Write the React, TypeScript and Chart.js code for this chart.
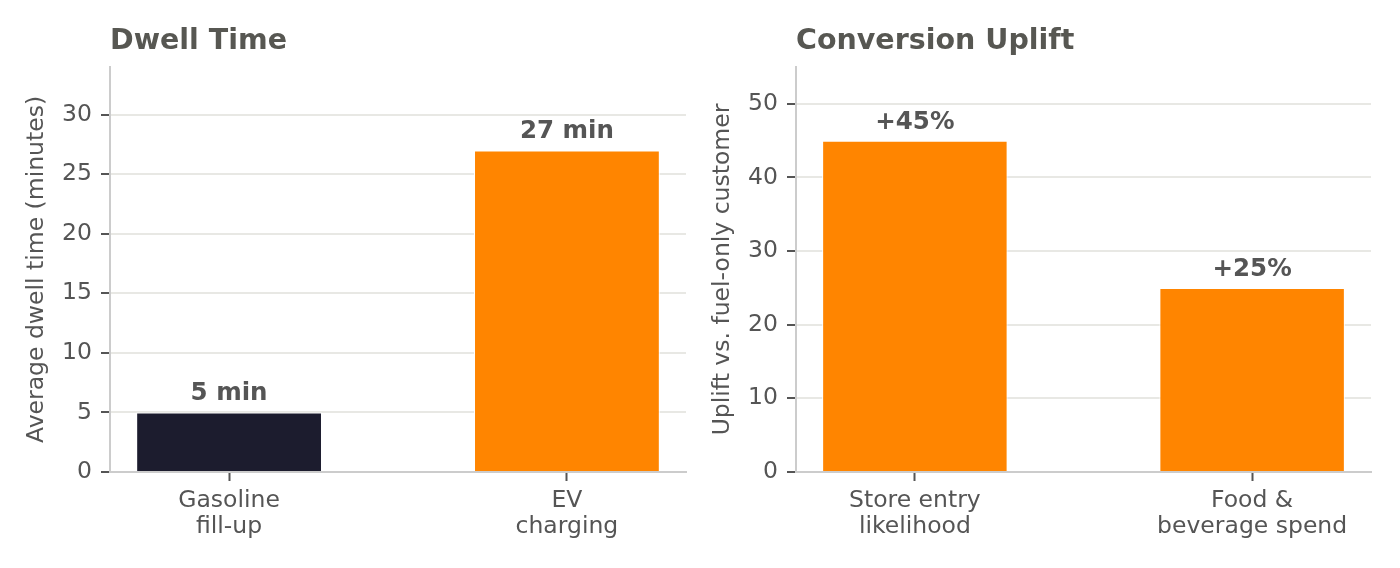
import React, { useEffect, useRef } from "react";
import { Chart, registerables } from "chart.js";

Chart.register(...registerables);

// ---- Data ----
const dwellTitle = "Dwell Time";
const dwellAxisTitle = "Average dwell time (minutes)";
const dwellCategories = [["Gasoline", "fill-up"], ["EV", "charging"]];
const dwellValues = [5, 27];
const dwellColors = ["#1c1c2e", "#ff8500"];
const dwellValueLabels = ["5 min", "27 min"];
const dwellYMax = 34;
const dwellYStep = 5;

const upliftTitle = "Conversion Uplift";
const upliftAxisTitle = "Uplift vs. fuel-only customer";
const upliftCategories = [["Store entry", "likelihood"], ["Food &", "beverage spend"]];
const upliftValues = [45, 25];
const upliftColors = ["#ff8500", "#ff8500"];
const upliftValueLabels = ["+45%", "+25%"];
const upliftYMax = 55;
const upliftYStep = 10;

const FONT = "'DejaVu Sans', 'Noto Sans', sans-serif";
const TEXT = "#555555";
const TITLE = "#575752";

type PanelProps = {
  title: string;
  axisTitle: string;
  categories: string[][];
  values: number[];
  colors: string[];
  valueLabels: string[];
  yMax: number;
  yStep: number;
  yAxisWidth: number;
  rightPad: number;
  yTitlePad: number;
};

function Panel(p: PanelProps) {
  const ref = useRef<HTMLCanvasElement | null>(null);
  useEffect(() => {
    if (!ref.current) return;
    const labelPlugin = {
      id: "valueLabels",
      afterDatasetsDraw(chart: any) {
        const ctx = chart.ctx;
        const meta = chart.getDatasetMeta(0);
        ctx.save();
        ctx.font = `bold 24.5px ${FONT}`;
        ctx.fillStyle = TEXT;
        ctx.textAlign = "center";
        ctx.textBaseline = "alphabetic";
        meta.data.forEach((el: any, i: number) => {
          ctx.fillText(p.valueLabels[i], el.x, el.y - 12);
        });
        ctx.restore();
      },
    };
    const chart = new Chart(ref.current, {
      type: "bar",
      data: {
        datasets: [
          {
            data: p.values.map((v, i) => ({ x: i, y: v })),
            backgroundColor: p.colors,
            borderColor: "#ffffff",
            borderWidth: 1,
            barPercentage: 0.55,
            categoryPercentage: 1,
          },
        ],
      },
      options: {
        responsive: false,
        animation: false,
        devicePixelRatio: 1,
        layout: { padding: { left: 0, right: p.rightPad, top: 0, bottom: 0 } },
        plugins: {
          legend: { display: false },
          tooltip: { enabled: false },
          title: {
            display: true,
            text: p.title,
            align: "start",
            fullSize: false,
            color: TITLE,
            font: { family: FONT, size: 28.5, weight: "bold", lineHeight: 1.2 },
            padding: { top: 24, bottom: 8.8 },
          },
        },
        scales: {
          x: {
            type: "linear",
            min: -0.3525,
            max: 1.3525,
            offset: false,
            afterFit: (s: any) => {
              s.height = 96;
            },
            ticks: {
              stepSize: 1,
              includeBounds: false,
              autoSkip: false,
              maxRotation: 0,
              color: TEXT,
              padding: 6,
              font: { family: FONT, size: 23.5, lineHeight: 1.14 },
              callback: (v: any) => p.categories[v] ?? "",
            },
            grid: {
              offset: false,
              drawOnChartArea: false,
              drawTicks: true,
              tickLength: 9,
              tickColor: TEXT,
              tickWidth: 2,
            },
            border: { color: "#cccccc", width: 2 },
          },
          y: {
            min: 0,
            max: p.yMax,
            afterFit: (s: any) => {
              s.width = p.yAxisWidth;
            },
            ticks: {
              stepSize: p.yStep,
              includeBounds: false,
              color: TEXT,
              padding: 9,
              font: { family: FONT, size: 23.5 },
            },
            grid: {
              color: "#e8e8e4",
              lineWidth: 2,
              tickLength: 9,
              tickColor: TEXT,
              tickWidth: 2,
            },
            border: { color: "#cccccc", width: 2 },
            title: {
              display: true,
              text: p.axisTitle,
              color: TEXT,
              font: { family: FONT, size: 23.5, lineHeight: 1.2 },
              padding: { top: p.yTitlePad, bottom: 0 },
            },
          },
        },
      } as any,
      plugins: [labelPlugin],
    });
    return () => chart.destroy();
  }, []);
  return <canvas ref={ref} width={700} height={568} style={{ display: "block", width: 700, height: 568 }} />;
}

export default function App() {
  return (
    <div style={{ position: "fixed", left: 0, top: 0, width: 1400, height: 568, background: "#ffffff", display: "flex" }}>
      <Panel
        title={dwellTitle}
        axisTitle={dwellAxisTitle}
        categories={dwellCategories}
        values={dwellValues}
        colors={dwellColors}
        valueLabels={dwellValueLabels}
        yMax={dwellYMax}
        yStep={dwellYStep}
        yAxisWidth={110}
        rightPad={14}
        yTitlePad={23}
      />
      <Panel
        title={upliftTitle}
        axisTitle={upliftAxisTitle}
        categories={upliftCategories}
        values={upliftValues}
        colors={upliftColors}
        valueLabels={upliftValueLabels}
        yMax={upliftYMax}
        yStep={upliftYStep}
        yAxisWidth={96}
        rightPad={29}
        yTitlePad={9}
      />
    </div>
  );
}
